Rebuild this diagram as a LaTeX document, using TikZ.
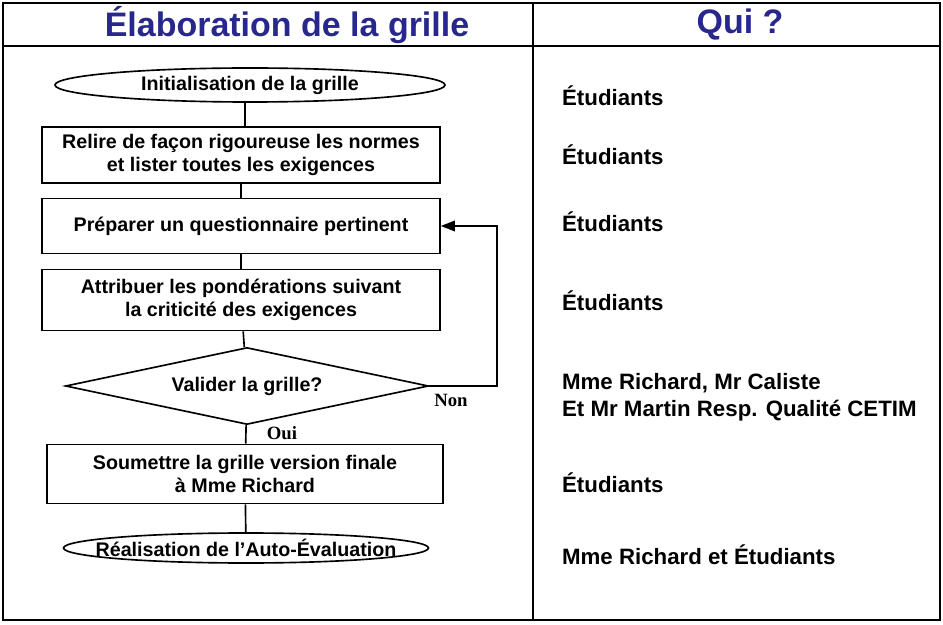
\documentclass[tikz,border=0pt]{standalone}
\usepackage{fontspec}
\setmainfont{Liberation Sans}
\newfontfamily\serifbold{Liberation Serif}
\usetikzlibrary{shapes.geometric,arrows.meta}
\definecolor{titleblue}{RGB}{40,40,140}
\tikzset{
  stepbox/.style={draw,line width=1.4pt,minimum width=398\px,align=center,font=\bfseries\fontsize{16.8}{20}\selectfont},
  endpoint/.style={draw,ellipse,line width=1.4pt,inner sep=0pt,font=\bfseries\fontsize{16.8}{20}\selectfont},
  who/.style={anchor=west,align=left,font=\bfseries\fontsize{19}{23}\selectfont},
  title/.style={text=titleblue,font=\bfseries\fontsize{29}{32}\selectfont},
  link/.style={line width=1.4pt}
}
\newlength{\px}\setlength{\px}{0.03cm}
\begin{document}
\begin{tikzpicture}[x=0.03cm,y=-0.03cm]
\useasboundingbox (0,0) rectangle (943,625);
%table
\draw[line width=2.5pt] (3,3) rectangle (940,620);
\draw[line width=2pt] (3,46) -- (940,46);
\draw[line width=2pt] (533,3) -- (533,620);
\node[title] (head1) at (287,25) {Élaboration de la grille};
\node[title] (head2) at (740,25) {Qui ?};
%flow
\node[endpoint,minimum width=390\px,minimum height=34\px] (init) at (250,85) {Initialisation de la grille};
\node[stepbox,minimum height=56\px] (relire) at (241,155) {Relire de façon rigoureuse les normes\\ et lister toutes les exigences};
\node[stepbox,minimum height=55\px] (prep) at (241,226) {Préparer un questionnaire pertinent};
\node[stepbox,minimum height=61\px] (attr) at (241,300) {Attribuer les pondérations suivant\\ la criticité des exigences};
\node[draw,diamond,aspect=4.7,line width=1.4pt,minimum width=363\px,minimum height=77\px,inner sep=0pt,font=\bfseries\fontsize{16.8}{20}\selectfont] (valid) at (247,386) {Valider la grille?};
\node[stepbox,minimum width=396\px,minimum height=59\px] (soum) at (245,474) {Soumettre la grille version finale\\ à Mme Richard};
\node[endpoint,minimum width=365\px,minimum height=30\px] (real) at (246,548) {};
\node[font=\bfseries\fontsize{16.8}{20}\selectfont] (realtext) at (246,548) {Réalisation de l’Auto-Évaluation};
\draw[link] (relire.north -| 245,0) -- (245,102);
\draw[link] (relire) -- (prep);
\draw[link] (prep) -- (attr);
\draw[link] (attr) -- (valid);
\draw[link] (valid) -- (soum);
\draw[link] (soum) -- (real);
\coordinate (loop) at (497,386);
\draw[link,-{Triangle[length=12pt,width=9pt]}] (valid.east) -- (loop) |- (prep.east);
\node[font=\serifbold\bfseries\fontsize{16}{18}\selectfont] (non) at (451,400) {Non};
\node[font=\serifbold\bfseries\fontsize{16}{18}\selectfont] (oui) at (282,433) {Oui};
%who
\node[who] (q1) at (558,96) {Étudiants};
\node[who] (q2) at (558,155) {Étudiants};
\node[who] (q3) at (558,222) {Étudiants};
\node[who] (q4) at (558,301) {Étudiants};
\node[who] (q5) at (558,397) {Mme Richard, Mr Caliste\\Et Mr Martin Resp. Qualité CETIM};
\node[who] (q6) at (558,483) {Étudiants};
\node[who] (q7) at (558,555) {Mme Richard et Étudiants};
\end{tikzpicture}
\end{document}
